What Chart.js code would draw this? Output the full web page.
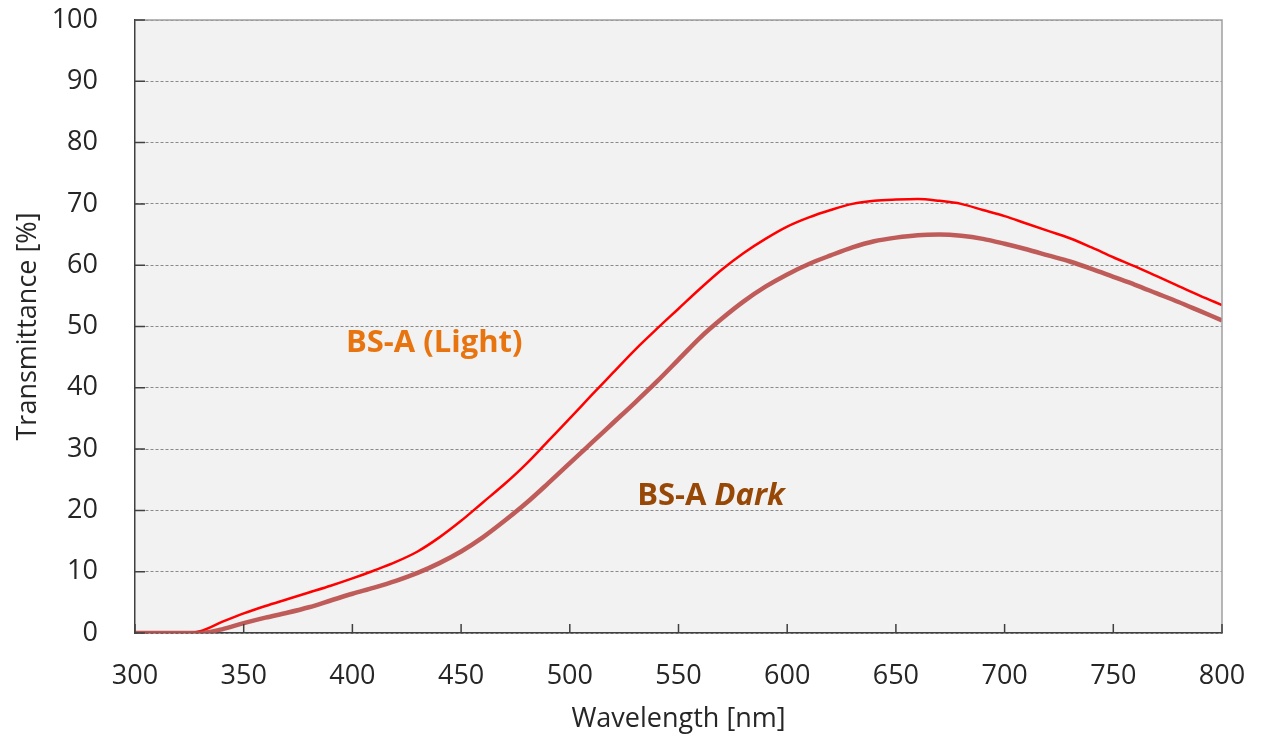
<!DOCTYPE html>
<html lang="en">
<head>
  <title>BS-A transmittance</title>
  <script src="https://cdn.jsdelivr.net/npm/chart.js@4/dist/chart.umd.min.js"></script>
  <style>
    html, body { margin: 0; padding: 0; background: #fff; }
    #wrap { width: 1262px; height: 737px; }
  </style>
</head>
<body>
  <div id="wrap"><canvas id="myChart"></canvas></div>
  <script>
  // wavelength in nm, transmittance in %
  var wavelengths = [300, 310, 320, 325, 330, 340, 350, 360, 370, 380, 390,
    400, 410, 420, 430, 440, 450, 460, 470, 480, 490,
    500, 510, 520, 530, 540, 550, 560, 570, 580, 590,
    600, 610, 620, 630, 640, 650, 660, 670, 680, 690,
    700, 710, 720, 730, 740, 750, 760, 770, 780, 790, 800];

  var lightValues = [0, 0, 0, 0, 0.3, 1.8, 3.2, 4.4, 5.5, 6.6, 7.7,
    8.9, 10.2, 11.6, 13.3, 15.6, 18.3, 21.3, 24.3, 27.6, 31.3,
    35.0, 38.8, 42.5, 46.2, 49.6, 52.9, 56.2, 59.3, 62.0, 64.3,
    66.3, 67.8, 69.0, 70.0, 70.5, 70.7, 70.8, 70.5, 70.0, 69.0,
    68.0, 66.8, 65.6, 64.4, 62.9, 61.3, 59.8, 58.2, 56.6, 55.0, 53.5];

  var darkValues = [0, 0, 0, 0, 0, 0.6, 1.6, 2.5, 3.3, 4.2, 5.3,
    6.4, 7.4, 8.5, 9.8, 11.4, 13.3, 15.6, 18.3, 21.2, 24.4,
    27.7, 31.0, 34.3, 37.6, 41.0, 44.6, 48.2, 51.3, 54.1, 56.5,
    58.5, 60.2, 61.6, 62.9, 63.9, 64.5, 64.9, 65.0, 64.8, 64.3,
    63.5, 62.6, 61.6, 60.6, 59.4, 58.1, 56.8, 55.4, 54.0, 52.5, 51.0];

  var xTicks = [300, 350, 400, 450, 500, 550, 600, 650, 700, 750, 800];
  var yTicks = [0, 10, 20, 30, 40, 50, 60, 70, 80, 90, 100];

  function toPoints(vals) {
    return wavelengths.map(function (w, i) { return { x: w, y: vals[i] }; });
  }

  // plot background, outer frame, inward tick marks and the two curve labels
  var decorPlugin = {
    id: 'decor',
    beforeDraw: function (chart) {
      var a = chart.chartArea, c = chart.ctx;
      c.save();
      c.fillStyle = '#f2f2f2';
      c.fillRect(a.left, a.top, a.right - a.left, a.bottom - a.top);
      c.restore();
    },
    afterDatasetsDraw: function (chart) {
      var a = chart.chartArea, c = chart.ctx;
      var xs = chart.scales.x, ys = chart.scales.y;
      c.save();
      c.strokeStyle = '#a0a0a0';
      c.lineWidth = 1.5;
      c.beginPath();
      c.moveTo(a.left, a.top); c.lineTo(a.right, a.top); c.lineTo(a.right, a.bottom);
      c.stroke();

      c.strokeStyle = '#404040';
      c.lineWidth = 1.5;
      c.beginPath();
      xTicks.forEach(function (v) {
        var px = xs.getPixelForValue(v);
        c.moveTo(px, a.bottom); c.lineTo(px, a.bottom - 9);
      });
      yTicks.forEach(function (v) {
        var py = ys.getPixelForValue(v);
        c.moveTo(a.left, py); c.lineTo(a.left + 10, py);
      });
      c.stroke();

      c.textBaseline = 'middle';
      c.textAlign = 'left';
      c.fillStyle = '#e8740f';
      c.font = 'bold 31px "Open Sans"';
      c.fillText('BS-A (Light)', xs.getPixelForValue(397), ys.getPixelForValue(47.2));

      var dx = xs.getPixelForValue(531), dy = ys.getPixelForValue(22.4);
      c.fillStyle = '#974806';
      c.fillText('BS-A ', dx, dy);
      var w = c.measureText('BS-A ').width;
      c.font = 'italic bold 31px "Open Sans"';
      c.fillText('Dark', dx + w, dy);
      c.restore();
    }
  };

  var ctx = document.getElementById('myChart').getContext('2d');

  var config = {
    type: 'line',
    data: {
      datasets: [{
        label: 'BS-A Dark',
        data: toPoints(darkValues),
        borderColor: 'rgba(185,75,72,0.9)',
        borderWidth: 4.5,
        pointRadius: 0,
        cubicInterpolationMode: 'monotone',
        fill: false
      }, {
        label: 'BS-A (Light)',
        data: toPoints(lightValues),
        borderColor: '#ff0000',
        borderWidth: 2.5,
        pointRadius: 0,
        cubicInterpolationMode: 'monotone',
        fill: false
      }]
    },
    options: {
      responsive: true,
      maintainAspectRatio: false,
      animation: false,
      layout: { padding: { top: 20, right: 40, left: 0, bottom: 0 } },
      plugins: {
        legend: { display: false },
        tooltip: { enabled: false }
      },
      scales: {
        x: {
          type: 'linear',
          min: 300,
          max: 800,
          afterBuildTicks: function (axis) {
            axis.ticks = xTicks.map(function (v) { return { value: v }; });
          },
          afterFit: function (scale) {
            scale.height = 104;
            scale.paddingLeft = 0;
            scale.paddingRight = 0;
          },
          grid: { drawOnChartArea: false, drawTicks: false },
          border: { color: '#404040', width: 1.5 },
          ticks: { color: '#262626', padding: 27, font: { family: 'Open Sans', size: 27 } },
          title: {
            display: true,
            text: 'Wavelength [nm]',
            color: '#262626',
            padding: { top: 0, bottom: 1 },
            font: { family: 'Open Sans', size: 27 }
          }
        },
        y: {
          min: 0,
          max: 100,
          afterBuildTicks: function (axis) {
            axis.ticks = yTicks.map(function (v) { return { value: v }; });
          },
          afterFit: function (scale) {
            scale.width = 135;
            scale.paddingTop = 0;
            scale.paddingBottom = 0;
          },
          grid: {
            color: '#8a8a8a',
            lineWidth: 1,
            drawTicks: false
          },
          border: { color: '#404040', width: 1.5, dash: [3, 2] },
          ticks: { color: '#262626', padding: 37, font: { family: 'Open Sans', size: 27 } },
          title: {
            display: true,
            text: 'Transmittance [%]',
            color: '#262626',
            padding: { top: 12, bottom: 0 },
            font: { family: 'Open Sans', size: 27 }
          }
        }
      }
    },
    plugins: [decorPlugin]
  };

  window.myLine = new Chart(ctx, config);
  </script>
</body>
</html>
